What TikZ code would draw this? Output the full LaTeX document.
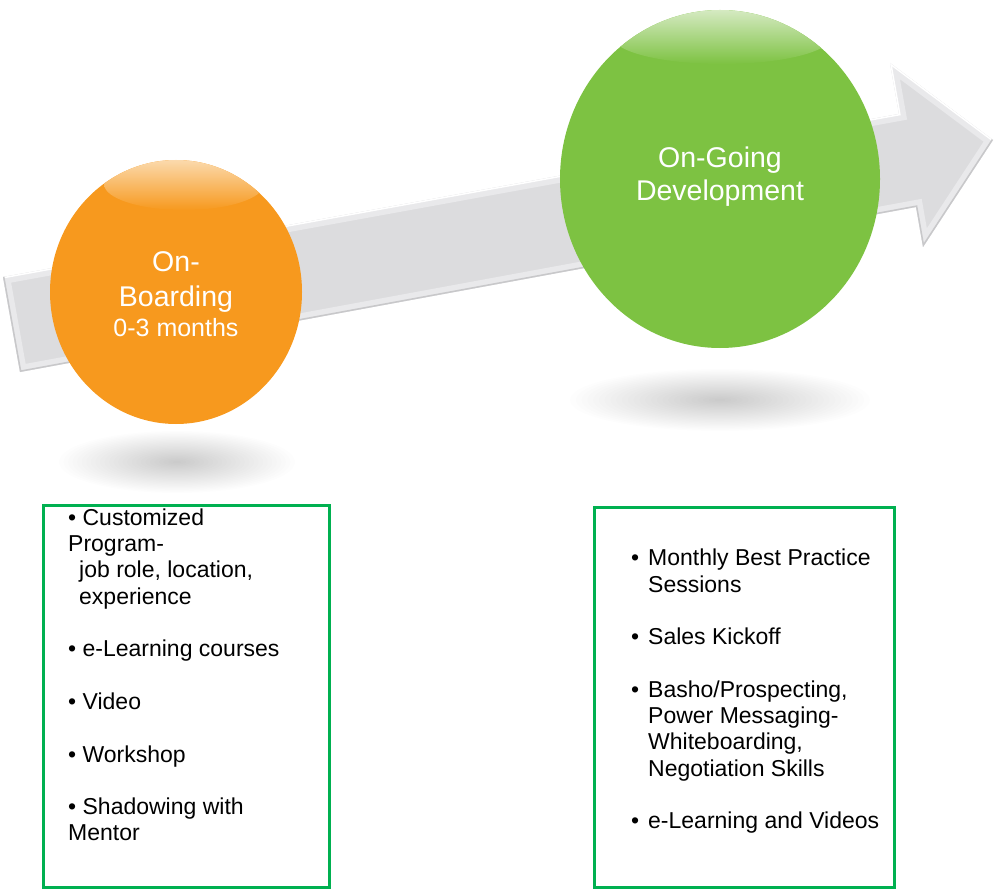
\documentclass[tikz,border=0pt]{standalone}
\usepackage{fontspec}
\setmainfont{Liberation Sans}
\usetikzlibrary{shapes.geometric}
\definecolor{orng}{HTML}{F7991E}
\definecolor{orngpale}{HTML}{FBDCB2}
\definecolor{grn}{HTML}{7DC242}
\definecolor{grnpale}{HTML}{D8EBC6}
\definecolor{boxgreen}{HTML}{00B050}
\definecolor{arrgray}{HTML}{DCDCDE}
\definecolor{arrlight}{HTML}{E9E9EB}
\definecolor{arredge}{HTML}{C8C8CA}
\newcommand\rbul{\makebox[17pt][l]{•}}
\newcommand\rind{\hspace*{17pt}}
\tikzset{
  listbox/.style={draw=boxgreen, line width=3pt, inner sep=0pt, rectangle},
  bodytext/.style={anchor=north west, align=left, inner sep=0pt, text=black, font=\fontsize{23}{26.3}\selectfont},
  bigtext/.style={anchor=base, inner sep=0pt, text=white, font=\fontsize{28.5}{32}\selectfont},
  smalltext/.style={anchor=base, inner sep=0pt, text=white, font=\fontsize{25}{28}\selectfont},
  shadowring/.style={fill=black, opacity=0.009}
}
\begin{document}
\begin{tikzpicture}[x=1pt,y=-1pt]
\useasboundingbox (0,0) rectangle (995,890);
% soft shadows under the circles
\foreach \k in {1,...,26} {
  \fill[shadowring] (177,462) ellipse [x radius={118*\k/26}, y radius={31*\k/26}];
  \fill[shadowring] (720,400) ellipse [x radius={150*\k/26}, y radius={31*\k/26}];
}
% arrow
\coordinate (a1) at (3,277);
\coordinate (a2) at (899,114);
\coordinate (a3) at (890,63);
\coordinate (a4) at (993,140);
\coordinate (a5) at (923,247);
\coordinate (a6) at (916,207);
\coordinate (a7) at (20,372);
\fill[arrgray] (a1)--(a2)--(a3)--(a4)--(a5)--(a6)--(a7)--cycle;
\begin{scope}
  \clip (a1)--(a2)--(a3)--(a4)--(a5)--(a6)--(a7)--cycle;
  \draw[arrlight, line width=14pt, line join=miter] (a1)--(a2)--(a3)--(a4)--(a5)--(a6)--(a7)--cycle;
  \draw[white, line width=3pt] (a1)--(a2)--(a3)--(a4);
  \draw[arredge, line width=3pt] (a4)--(a5)--(a6)--(a7)--(a1);
\end{scope}
% orange circle
\fill[orng] (176,292) ellipse [x radius=126, y radius=132];
\begin{scope}
  \clip (176,292) ellipse [x radius=126, y radius=132];
  \shade[top color=orngpale, bottom color=orng] (184,184) ellipse [x radius=80, y radius=26];
\end{scope}
% green circle
\fill[grn] (720,179) ellipse [x radius=160, y radius=169];
\begin{scope}
  \clip (720,179) ellipse [x radius=160, y radius=169];
  \shade[top color=grnpale, bottom color=grn] (722,36) ellipse [x radius=110, y radius=28];
\end{scope}
% circle texts
\node[bigtext] (ob1) at (176,272) {On-};
\node[bigtext] (ob2) at (176,306) {Boarding};
\node[smalltext] (ob3) at (176,337) {0-3 months};
\node[bigtext] (og1) at (720,168) {On-Going};
\node[bigtext] (og2) at (720,201) {Development};
% boxes
\node[listbox, minimum width=286pt, minimum height=382pt] (lbox) at (186,696) {};
\node[listbox, minimum width=300pt, minimum height=380pt] (rbox) at (744,697) {};
\node[bodytext] (ltext) at (68,508.5) {• Customized\\Program-\\\hspace*{11pt}job role, location,\\\hspace*{11pt}experience\\[26.3pt]• e-Learning courses\\[26.3pt]• Video\\[26.3pt]• Workshop\\[26.3pt]• Shadowing with\\Mentor};
\node[bodytext] (rtext) at (631,549) {\rbul Monthly Best Practice\\\rind Sessions\\[26.3pt]\rbul Sales Kickoff\\[26.3pt]\rbul Basho/Prospecting,\\\rind Power Messaging-\\\rind Whiteboarding,\\\rind Negotiation Skills\\[26.3pt]\rbul e-Learning and Videos};
\end{tikzpicture}
\end{document}
